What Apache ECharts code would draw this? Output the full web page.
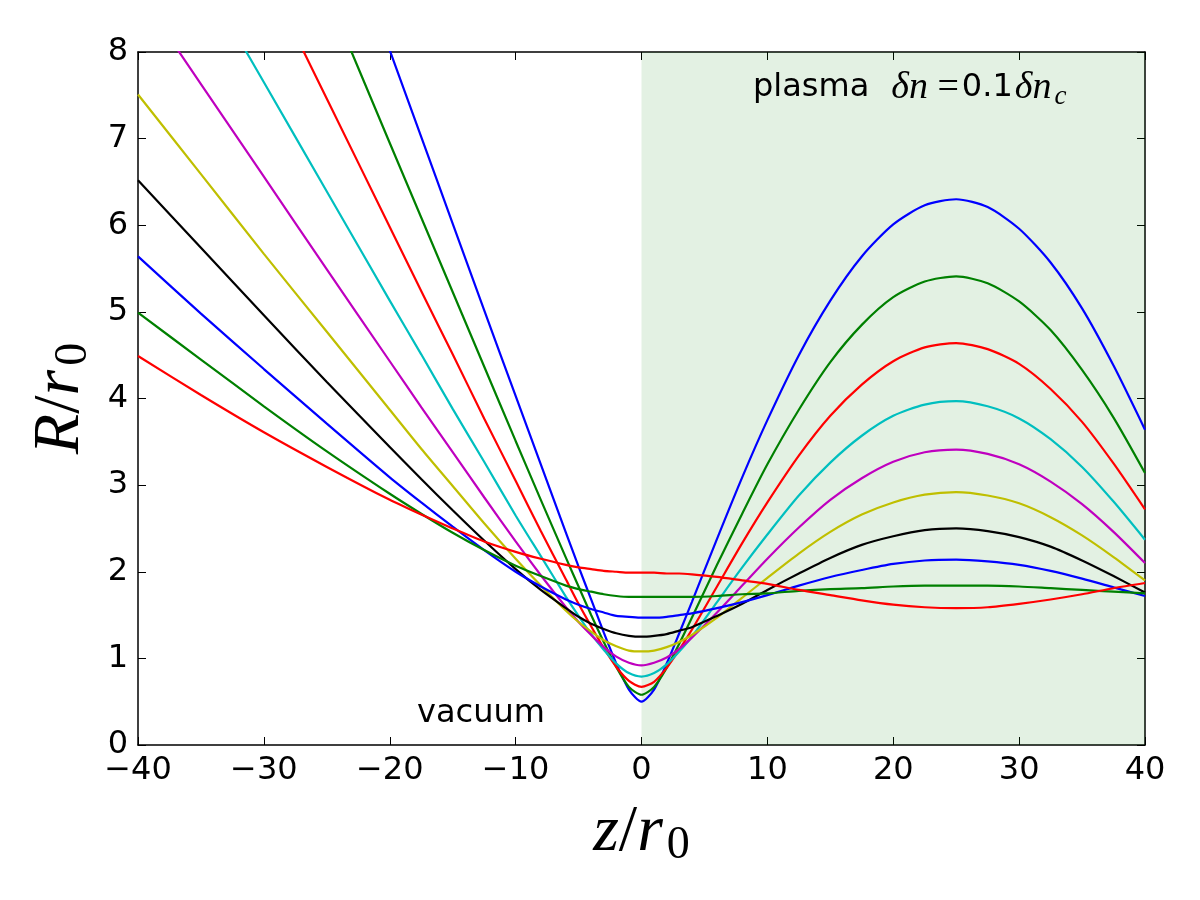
<!DOCTYPE html>
<html>
<head>
    <meta charset="utf-8">
    <title>R/r0</title>
    <script type="text/javascript" src="https://cdn.jsdelivr.net/npm/echarts@6/dist/echarts.min.js"></script>
    <style>
        body { margin: 0; background: #fff; }
    </style>
</head>
<body>
    <div id="main" style="width: 1200px;height:900px;"></div>
    <script type="text/javascript">
        // z/r0 sample points (vacuum z<0, plasma z>0)
        var zPts = [-40, -35, -30, -25, -20, -17.5, -15, -12.5, -10, -8, -6, -5, -4, -3, -2, -1, 0,
            1, 2, 3, 4, 6, 8, 10, 12.5, 15, 17.5, 20, 22.5, 25, 27.5, 30, 32.5, 35, 37.5, 40];

        // R/r0, one array per curve
        var blue1 = [16.01, 14.01, 12.01, 10.01, 8.02, 7.02, 6.02, 5.02, 4.03, 3.24, 2.45, 2.06, 1.68, 1.30, 0.94, 0.64, 0.50,
            0.64, 0.94, 1.29, 1.65, 2.38, 3.09, 3.75, 4.50, 5.13, 5.64, 6.01, 6.23, 6.30, 6.21, 5.96, 5.57, 5.04, 4.38, 3.64];
        var green1 = [13.87, 12.14, 10.41, 8.68, 6.95, 6.09, 5.23, 4.37, 3.51, 2.83, 2.16, 1.83, 1.50, 1.19, 0.90, 0.67, 0.58,
            0.67, 0.89, 1.17, 1.47, 2.08, 2.67, 3.24, 3.87, 4.42, 4.85, 5.17, 5.35, 5.41, 5.33, 5.12, 4.79, 4.33, 3.78, 3.14];
        var red1 = [11.90, 10.42, 8.94, 7.46, 5.98, 5.24, 4.51, 3.77, 3.05, 2.47, 1.91, 1.63, 1.37, 1.12, 0.90, 0.74, 0.67,
            0.73, 0.89, 1.10, 1.33, 1.83, 2.33, 2.80, 3.34, 3.80, 4.16, 4.43, 4.59, 4.64, 4.57, 4.40, 4.11, 3.73, 3.25, 2.72];
        var cyan1 = [10.17, 8.91, 7.65, 6.39, 5.13, 4.51, 3.88, 3.27, 2.65, 2.18, 1.71, 1.49, 1.28, 1.10, 0.94, 0.83, 0.79,
            0.83, 0.93, 1.08, 1.25, 1.65, 2.05, 2.43, 2.88, 3.26, 3.57, 3.80, 3.93, 3.97, 3.91, 3.77, 3.53, 3.21, 2.81, 2.37];
        var magenta1 = [8.70, 7.63, 6.56, 5.49, 4.43, 3.90, 3.38, 2.86, 2.35, 1.96, 1.59, 1.42, 1.27, 1.13, 1.02, 0.95, 0.92,
            0.95, 1.01, 1.11, 1.24, 1.53, 1.84, 2.15, 2.51, 2.83, 3.08, 3.27, 3.38, 3.41, 3.36, 3.24, 3.04, 2.78, 2.46, 2.10];
        var yellow1 = [7.51, 6.59, 5.67, 4.77, 3.87, 3.42, 2.99, 2.56, 2.15, 1.84, 1.55, 1.42, 1.31, 1.21, 1.14, 1.09, 1.08,
            1.09, 1.13, 1.19, 1.27, 1.47, 1.70, 1.93, 2.21, 2.46, 2.66, 2.80, 2.89, 2.92, 2.88, 2.79, 2.63, 2.42, 2.17, 1.90];
        var black1 = [6.52, 5.74, 4.96, 4.19, 3.44, 3.07, 2.71, 2.36, 2.03, 1.79, 1.58, 1.48, 1.40, 1.34, 1.29, 1.26, 1.25,
            1.26, 1.28, 1.32, 1.36, 1.49, 1.63, 1.79, 1.98, 2.16, 2.31, 2.41, 2.48, 2.50, 2.47, 2.40, 2.29, 2.13, 1.95, 1.76];
        var blue2 = [5.64, 4.98, 4.34, 3.71, 3.09, 2.80, 2.52, 2.25, 2.00, 1.83, 1.68, 1.62, 1.57, 1.53, 1.49, 1.48, 1.47,
            1.47, 1.48, 1.50, 1.52, 1.58, 1.65, 1.73, 1.84, 1.94, 2.02, 2.09, 2.13, 2.14, 2.12, 2.08, 2.01, 1.92, 1.82, 1.72];
        var green2 = [4.99, 4.45, 3.91, 3.39, 2.90, 2.67, 2.45, 2.25, 2.07, 1.95, 1.84, 1.80, 1.77, 1.74, 1.72, 1.71, 1.71,
            1.71, 1.71, 1.71, 1.71, 1.72, 1.74, 1.75, 1.78, 1.80, 1.81, 1.83, 1.84, 1.84, 1.84, 1.83, 1.81, 1.79, 1.77, 1.75];
        var red2 = [4.49, 4.04, 3.61, 3.21, 2.83, 2.66, 2.50, 2.35, 2.23, 2.15, 2.08, 2.05, 2.03, 2.01, 2.00, 1.99, 1.99,
            1.99, 1.98, 1.98, 1.97, 1.94, 1.90, 1.86, 1.79, 1.73, 1.67, 1.62, 1.59, 1.58, 1.59, 1.63, 1.68, 1.74, 1.81, 1.87];

        var curves = [blue1, green1, red1, cyan1, magenta1, yellow1, black1, blue2, green2, red2];
        var colors = ['#0000ff', '#008000', '#ff0000', '#00bfbf', '#bf00bf', '#bfbf00', '#000000', '#0000ff', '#008000', '#ff0000'];

        // plasma region
        var plasmaStart = 0, plasmaEnd = 40;

        var myChart = echarts.init(document.getElementById('main'));

        var tickFont = { fontFamily: 'DejaVu Sans', fontSize: 32, color: '#000' };
        var mathRich = {
            i: { fontFamily: 'Liberation Serif', fontStyle: 'italic', fontSize: 66, color: '#000' },
            s: { fontFamily: 'Liberation Serif', fontSize: 66, color: '#000' },
            sub: { fontFamily: 'Liberation Serif', fontSize: 46, color: '#000', padding: [26, 0, 0, 4] }
        };

        var series = [{
            type: 'line',
            data: [],
            silent: true,
            z: 1,
            markArea: {
                silent: true,
                itemStyle: { color: 'rgba(0,128,0,0.11)' },
                data: [[{ xAxis: plasmaStart }, { xAxis: plasmaEnd }]]
            }
        }];
        curves.forEach(function (c, i) {
            series.push({
                type: 'line',
                smooth: 0.25,
                showSymbol: false,
                clip: true,
                z: 2 + i,
                lineStyle: { color: colors[i], width: 2.2 },
                data: zPts.map(function (z, k) { return [z, c[k]]; })
            });
        });

        var option = {
            animation: false,
            grid: { left: 138, right: 55, top: 52, bottom: 155, containLabel: false },
            xAxis: [{
                type: 'value', min: -40, max: 40, interval: 10,
                axisLine: { onZero: false, lineStyle: { color: '#000', width: 1.5 } },
                axisTick: { inside: true, length: 8, lineStyle: { color: '#000' } },
                splitLine: { show: false },
                axisLabel: Object.assign({ margin: 10, formatter: function (v) { return String(v).replace('-', '\u2212'); } }, tickFont),
                name: '{i|z}{s|/}{i|r}{sub|0}',
                nameLocation: 'middle',
                nameGap: 52,
                nameTextStyle: { rich: mathRich }
            }, {
                type: 'value', min: -40, max: 40, interval: 10, position: 'top',
                axisLine: { onZero: false, lineStyle: { color: '#000', width: 1.5 } },
                axisTick: { inside: true, length: 8, lineStyle: { color: '#000' } },
                axisLabel: { show: false },
                splitLine: { show: false }
            }],
            yAxis: [{
                type: 'value', min: 0, max: 8, interval: 1,
                axisLine: { show: true, onZero: false, lineStyle: { color: '#000', width: 1.5 } },
                axisTick: { show: true, inside: true, length: 8, lineStyle: { color: '#000' } },
                splitLine: { show: false },
                axisLabel: Object.assign({ margin: 10 }, tickFont),
                name: '{i|R}{s|/}{i|r}{sub|0}',
                nameLocation: 'middle',
                nameRotate: 90,
                nameGap: 38,
                nameTextStyle: { rich: mathRich }
            }, {
                type: 'value', min: 0, max: 8, interval: 1, position: 'right',
                axisLine: { show: true, onZero: false, lineStyle: { color: '#000', width: 1.5 } },
                axisTick: { show: true, inside: true, length: 8, lineStyle: { color: '#000' } },
                axisLabel: { show: false },
                splitLine: { show: false }
            }],
            graphic: [{
                type: 'text',
                left: 753, top: 69,
                z: 100,
                style: {
                    text: '{p|plasma}{m|\u03b4n }{e|=}{p|0.1}{m2|\u03b4n}{c|c}',
                    rich: {
                        p: { fontFamily: 'DejaVu Sans', fontSize: 32, color: '#000' },
                        m: { fontFamily: 'Liberation Serif', fontStyle: 'italic', fontSize: 38, color: '#000', padding: [0, 0, 0, 22] },
                        m2: { fontFamily: 'Liberation Serif', fontStyle: 'italic', fontSize: 38, color: '#000', padding: [0, 0, 0, 2] },
                        e: { fontFamily: 'Liberation Serif', fontSize: 38, color: '#000', padding: [0, 3, 0, 0] },
                        c: { fontFamily: 'Liberation Serif', fontStyle: 'italic', fontSize: 27, color: '#000', padding: [18, 0, 0, 3] }
                    }
                }
            }, {
                type: 'text',
                left: 417, top: 698,
                z: 100,
                style: { text: 'vacuum', fontFamily: 'DejaVu Sans', fontSize: 32, fill: '#000' }
            }],
            series: series
        };

        myChart.setOption(option);
    </script>
</body>
</html>
